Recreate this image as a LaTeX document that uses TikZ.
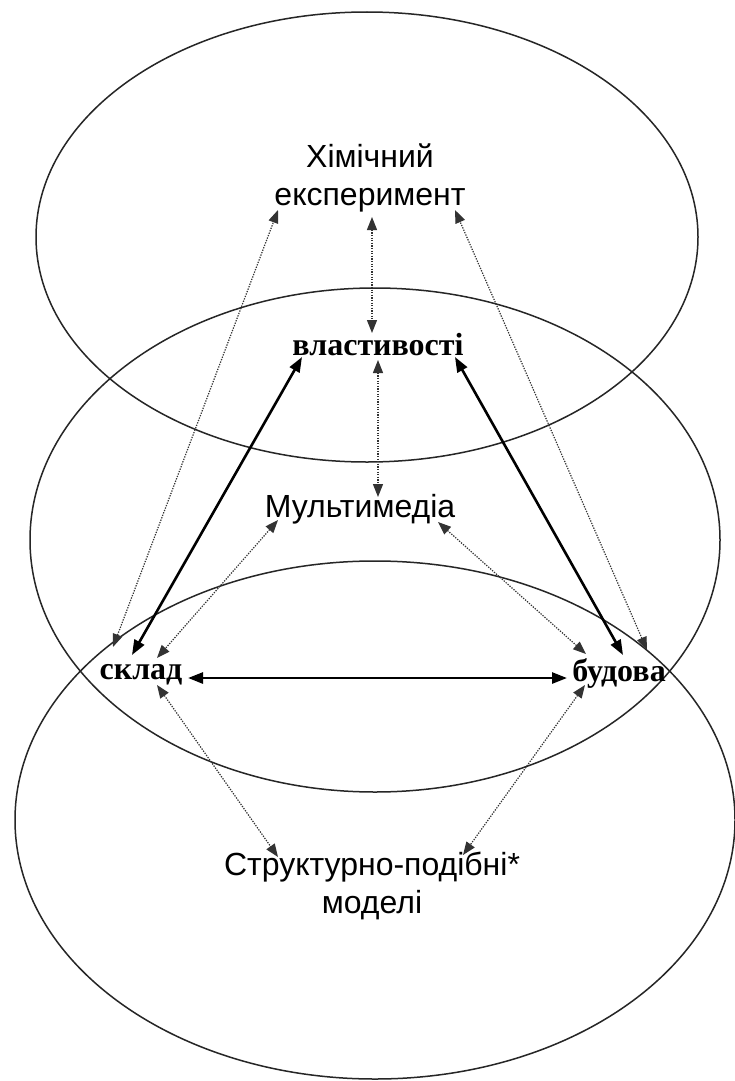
\documentclass[tikz,border=0pt]{standalone}
\usepackage{fontspec}
\setmainfont{Liberation Serif}
\newfontfamily\arialf{Liberation Sans}
\usetikzlibrary{arrows.meta}
\begin{document}
\begin{tikzpicture}[x=1pt,y=-1pt,
  ell/.style={draw=black!85, line width=1.5pt},
  lbl/.style={font=\arialf\fontsize{32}{38}\selectfont, inner sep=0pt, align=center},
  key/.style={font=\bfseries\fontsize{32}{38}\selectfont, inner sep=0pt},
  dotarrow/.style={draw=black!80, line width=1.2pt, dash pattern=on 1.3pt off 1.3pt,
    {Triangle[length=13pt,width=10pt]}-{Triangle[length=13pt,width=10pt]}},
  solidarrow/.style={draw=black, line width=2.6pt,
    {Triangle[length=15pt,width=11pt]}-{Triangle[length=15pt,width=11pt]}}]
\fill[white] (0,0) rectangle (735,1081);
\useasboundingbox (0,0) rectangle (735,1081);

% ellipses
\draw[ell] (367,237) ellipse [x radius=331pt, y radius=225pt];
\draw[ell] (375,540) ellipse [x radius=345pt, y radius=252pt];
\draw[ell] (375,820) ellipse [x radius=360pt, y radius=259pt];

% labels
\node[lbl] (exp) at (370,178) {Хімічний\\експеримент};
\node[key, anchor=base] (vl) at (378,355) {властивості};
\node[lbl, anchor=base] (mm) at (360,517) {Мультимедіа};
\node[key, anchor=base] (sk) at (141,679) {склад};
\node[key, anchor=base] (bu) at (619,681) {будова};
\node[lbl] (str) at (372,886) {Структурно-подібні*\\моделі};

% arrow end points (at the labels)
\coordinate (exp-l) at (278,210);
\coordinate (exp-b) at (372,217);
\coordinate (exp-r) at (455,210);
\coordinate (vl-t) at (372,333);
\coordinate (vl-b) at (378,360);
\coordinate (vl-l) at (302,357);
\coordinate (vl-r) at (455,357);
\coordinate (mm-t) at (378,497);
\coordinate (mm-l) at (278,520);
\coordinate (mm-r) at (438,522);
\coordinate (sk-a) at (113,647);
\coordinate (sk-b) at (132,655);
\coordinate (sk-c) at (157,658);
\coordinate (sk-d) at (157,685);
\coordinate (sk-e) at (188,678);
\coordinate (bu-a) at (647,650);
\coordinate (bu-b) at (623,655);
\coordinate (bu-c) at (586,654);
\coordinate (bu-d) at (585,685);
\coordinate (bu-e) at (567,678);
\coordinate (str-l) at (278,857);
\coordinate (str-r) at (463,855);

% dotted connectors
\draw[dotarrow] (sk-a) -- (exp-l);
\draw[dotarrow] (exp-b) -- (vl-t);
\draw[dotarrow] (vl-b) -- (mm-t);
\draw[dotarrow] (bu-a) -- (exp-r);
\draw[dotarrow] (mm-l) -- (sk-c);
\draw[dotarrow] (mm-r) -- (bu-c);
\draw[dotarrow] (sk-d) -- (str-l);
\draw[dotarrow] (bu-d) -- (str-r);

% solid connectors
\draw[solidarrow] (vl-l) -- (sk-b);
\draw[solidarrow] (vl-r) -- (bu-b);
\draw[solidarrow] (sk-e) -- (bu-e);
\end{tikzpicture}
\end{document}
